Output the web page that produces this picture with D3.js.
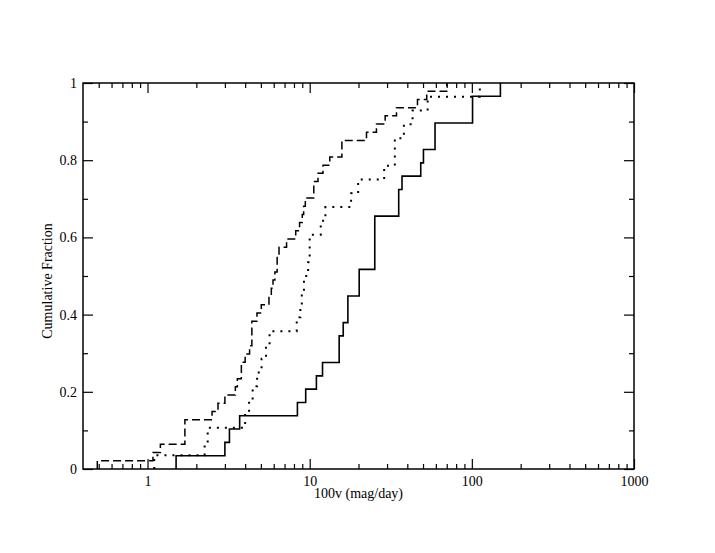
<!DOCTYPE html>
<html><head><meta charset="utf-8">
<script src="https://cdn.jsdelivr.net/npm/d3@7"></script>
<style>
body{margin:0;background:#fff}
svg text{font-family:"Liberation Serif","Times New Roman",serif;font-size:14px;fill:#000}
</style></head>
<body><svg id="c" width="715" height="553"></svg>
<script>
// sample values (100v, mag/day) for each group; drawn as cumulative distributions
const solidValues = [1.5, 3.0, 3.2, 3.7, 8.4, 9.45, 11.0, 12.0, 15.2, 15.2, 16.1, 17.2, 17.2, 20.2, 20.2,
  25.2, 25.2, 25.2, 25.2, 35.4, 35.4, 37.1, 48.4, 50.3, 59.3, 59.3, 101, 101, 150];
const dottedValues = [1.1, 2.25, 2.35, 4.0, 4.23, 4.45, 4.74, 5.05, 5.38, 5.66, 8.32, 8.76, 8.94, 9.22,
  9.78, 10.0, 10.0, 11.7, 12.5, 18.0, 19.9, 28.8, 33.5, 33.5, 38.1, 43.1, 53.4, 112];
const dashedValues = [0.49, 1.08, 1.2, 1.7, 1.7, 1.7, 2.5, 2.72, 3.0, 3.48, 3.58, 3.79, 3.79, 4.0, 4.26,
  4.4, 4.4, 4.4, 4.73, 5.03, 5.61, 5.8, 5.94, 6.1, 6.3, 6.3, 6.47, 7.2, 8.2, 8.66, 9.0, 9.18, 9.4,
  10.6, 10.6, 11.25, 12.08, 13.3, 15.8, 15.8, 22.4, 25.8, 29.2, 34.3, 46.2, 52.7, 70];

const xMajorTicks = [1, 10, 100, 1000];
const xMinorTicks = [0.5, 0.6, 0.7, 0.8, 0.9, 2, 3, 4, 5, 6, 7, 8, 9, 20, 30, 40, 50, 60, 70, 80, 90,
  200, 300, 400, 500, 600, 700, 800, 900];
const yMajorTicks = [0, 0.2, 0.4, 0.6, 0.8, 1];
const yMinorTicks = [0.1, 0.3, 0.5, 0.7, 0.9];
const xDomain = [0.4, 1000];
const yDomain = [0, 1];
const xTitle = "100v (mag/day)";
const yTitle = "Cumulative Fraction";

const L = 83, R = 634, T = 83, B = 469;
const svg = d3.select("#c");
const x = d3.scaleLog().domain(xDomain).range([L, R]);
const y = d3.scaleLinear().domain(yDomain).range([B, T]);

function axis(gen, tr, vals, size, fmt, pad) {
  const g = svg.append("g").attr("transform", tr)
    .call(gen.tickValues(vals).tickSize(-size).tickPadding(pad).tickFormat(fmt));
  g.select(".domain").remove();
  g.selectAll(".tick line").attr("stroke", "#000").attr("stroke-width", 1.2);
  return g;
}
const none = () => "";
axis(d3.axisBottom(x), `translate(0,${B})`, xMajorTicks, 10, d3.format("d"), 7);
axis(d3.axisBottom(x), `translate(0,${B})`, xMinorTicks, 5, none, 7);
axis(d3.axisTop(x), `translate(0,${T})`, xMajorTicks, 10, none, 7);
axis(d3.axisTop(x), `translate(0,${T})`, xMinorTicks, 5, none, 7);
axis(d3.axisLeft(y), `translate(${L},0)`, yMajorTicks, 10, d => String(d), 6);
axis(d3.axisLeft(y), `translate(${L},0)`, yMinorTicks, 5, none, 6);
axis(d3.axisRight(y), `translate(${R},0)`, yMajorTicks, 10, none, 6);
axis(d3.axisRight(y), `translate(${R},0)`, yMinorTicks, 5, none, 6);

svg.append("rect").attr("x", L).attr("y", T).attr("width", R - L).attr("height", B - T)
  .attr("fill", "none").attr("stroke", "#000").attr("stroke-width", 1.5);

function ecdf(vals) {
  const s = vals.slice().sort((a, b) => a - b), n = s.length;
  const pts = [[s[0], 0]];
  s.forEach((v, i) => pts.push([v, (i + 1) / n]));
  return pts;
}
const line = d3.line().x(d => x(d[0])).y(d => y(d[1])).curve(d3.curveStepAfter);
const series = [
  {vals: solidValues, dash: null, w: 1.6},
  {vals: dottedValues, dash: "2,6", w: 2},
  {vals: dashedValues, dash: "8,4", w: 1.5}
];
series.forEach(s => {
  svg.append("path").attr("d", line(ecdf(s.vals))).attr("fill", "none")
    .attr("stroke", "#000").attr("stroke-width", s.w)
    .attr("stroke-dasharray", s.dash);
});

svg.append("text").attr("x", (L + R) / 2).attr("y", 498).attr("text-anchor", "middle").text(xTitle);
svg.append("text").attr("transform", "translate(52,281) rotate(-90)").attr("text-anchor", "middle").text(yTitle);
</script>
</body></html>
